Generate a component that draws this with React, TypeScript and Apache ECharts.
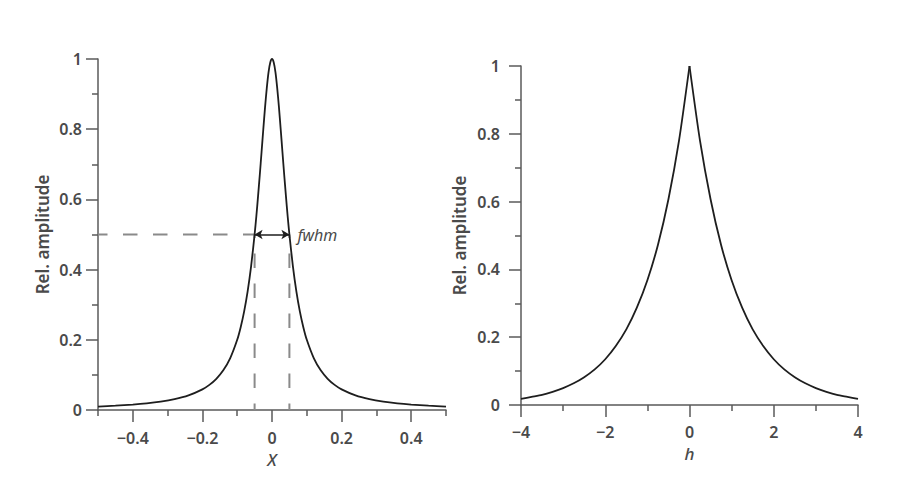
import React, { useEffect, useRef } from "react";
import * as echarts from "echarts";

// Left panel: Lorentzian line shape
const lorX = [-0.5, -0.45, -0.4, -0.36, -0.32, -0.28, -0.24, -0.2, -0.18, -0.16, -0.14, -0.12, -0.1, -0.09, -0.08, -0.07, -0.06, -0.05, -0.045, -0.04, -0.035, -0.03, -0.025, -0.02, -0.015, -0.01, -0.005, 0, 0.005, 0.01, 0.015, 0.02, 0.025, 0.03, 0.035, 0.04, 0.045, 0.05, 0.06, 0.07, 0.08, 0.09, 0.1, 0.12, 0.14, 0.16, 0.18, 0.2, 0.24, 0.28, 0.32, 0.36, 0.4, 0.45, 0.5];
const lorY = [0.0099, 0.0122, 0.0154, 0.0189, 0.0238, 0.0309, 0.0416, 0.0588, 0.0716, 0.089, 0.113, 0.148, 0.2, 0.236, 0.281, 0.338, 0.41, 0.5, 0.552, 0.61, 0.671, 0.735, 0.8, 0.862, 0.917, 0.962, 0.99, 1, 0.99, 0.962, 0.917, 0.862, 0.8, 0.735, 0.671, 0.61, 0.552, 0.5, 0.41, 0.338, 0.281, 0.236, 0.2, 0.148, 0.113, 0.089, 0.0716, 0.0588, 0.0416, 0.0309, 0.0238, 0.0189, 0.0154, 0.0122, 0.0099];

// fwhm annotation
const halfLevel = 0.5;
const fwhmX = [-0.05, 0.05];
const xMinLeft = -0.5;

// Right panel: cusp-shaped curve
const expH = [-4, -3.75, -3.5, -3.25, -3, -2.75, -2.5, -2.25, -2, -1.75, -1.5, -1.25, -1, -0.75, -0.5, -0.25, 0, 0.25, 0.5, 0.75, 1, 1.25, 1.5, 1.75, 2, 2.25, 2.5, 2.75, 3, 3.25, 3.5, 3.75, 4];
const expV = [0.018, 0.024, 0.03, 0.039, 0.05, 0.064, 0.082, 0.105, 0.135, 0.174, 0.223, 0.287, 0.368, 0.472, 0.607, 0.779, 1, 0.779, 0.607, 0.472, 0.368, 0.287, 0.223, 0.174, 0.135, 0.105, 0.082, 0.064, 0.05, 0.039, 0.03, 0.024, 0.018];

// Tick values
const leftMajorTicks = [-0.4, -0.2, 0, 0.2, 0.4];
const leftMinorTicks = [-0.5, -0.3, -0.1, 0.1, 0.3, 0.5];

const FONT = "Noto Sans";
const LABEL_COLOR = "#4a4a4a";
const AXIS_COLOR = "#5a5a5a";
const CURVE_COLOR = "#1e1e1e";
const DASH_COLOR = "#8a8a8a";

const minus = (v: number) => String(v).replace("-", "\u2212");

const tickLabel = {
  color: LABEL_COLOR,
  fontFamily: FONT,
  fontWeight: 600 as const,
  fontSize: 16,
};

const axisNameStyle = {
  color: LABEL_COLOR,
  fontFamily: FONT,
  fontWeight: 600 as const,
  fontSize: 17,
};

export default function App() {
  const ref = useRef<HTMLDivElement>(null);

  useEffect(() => {
    if (!ref.current) return;
    const chart = echarts.init(ref.current, undefined, { renderer: "svg" });

    const lorData = lorX.map((x, i) => [x, lorY[i]]);
    const expLeft = expH.map((h, i) => [h, expV[i]]).filter((p) => p[0] <= 0);
    const expRight = expH.map((h, i) => [h, expV[i]]).filter((p) => p[0] >= 0);

    const yAxisBase = (gridIndex: number, nameGap: number, labelMargin: number) => ({
      type: "value" as const,
      gridIndex,
      min: 0,
      max: 1,
      interval: 0.2,
      name: "Rel. amplitude",
      nameLocation: "middle" as const,
      nameGap,
      nameTextStyle: axisNameStyle,
      axisLine: { show: true, onZero: false, lineStyle: { color: AXIS_COLOR, width: 1.5 } },
      axisTick: { show: true, length: 12, lineStyle: { color: AXIS_COLOR, width: 1.5 } },
      minorTick: { show: true, splitNumber: 2, length: 6, lineStyle: { color: AXIS_COLOR, width: 1.5 } },
      splitLine: { show: false },
      minorSplitLine: { show: false },
      axisLabel: { ...tickLabel, margin: labelMargin },
    });

    const curveSeries = (xAxisIndex: number, yAxisIndex: number, data: number[][]) => ({
      type: "line" as const,
      xAxisIndex,
      yAxisIndex,
      data,
      showSymbol: false,
      smooth: 0.25,
      lineStyle: { color: CURVE_COLOR, width: 1.8 },
    });

    const dashSeries = (data: number[][], offset: number) => ({
      type: "line" as const,
      xAxisIndex: 0,
      yAxisIndex: 0,
      data,
      showSymbol: false,
      silent: true,
      lineStyle: { color: DASH_COLOR, width: 2, type: [14.5, 15.5], dashOffset: offset },
    });

    chart.setOption({
      animation: false,
      backgroundColor: "#ffffff",
      grid: [
        { left: 98, top: 59, width: 348, height: 351 },
        { left: 521, top: 66, width: 337, height: 339 },
      ],
      xAxis: [
        {
          type: "value",
          gridIndex: 0,
          min: -0.5,
          max: 0.5,
          name: "X",
          nameLocation: "middle",
          nameGap: 38,
          nameTextStyle: { ...axisNameStyle, fontStyle: "italic", fontWeight: 500 },
          axisLine: { show: true, onZero: false, lineStyle: { color: AXIS_COLOR, width: 1.5 } },
          axisTick: { show: true, length: 12, customValues: leftMajorTicks, lineStyle: { color: AXIS_COLOR, width: 1.5 } },
          axisLabel: { ...tickLabel, margin: 20, customValues: leftMajorTicks, formatter: (v: number) => minus(v) },
          splitLine: { show: false },
        },
        {
          type: "value",
          gridIndex: 0,
          min: -0.5,
          max: 0.5,
          position: "bottom",
          axisLine: { show: false, onZero: false },
          axisTick: { show: true, length: 6, customValues: leftMinorTicks, lineStyle: { color: AXIS_COLOR, width: 1.5 } },
          axisLabel: { show: false },
          splitLine: { show: false },
        },
        {
          type: "value",
          gridIndex: 1,
          min: -4,
          max: 4,
          interval: 2,
          name: "h",
          nameLocation: "middle",
          nameGap: 40,
          nameTextStyle: { ...axisNameStyle, fontStyle: "italic", fontWeight: 500 },
          axisLine: { show: true, onZero: false, lineStyle: { color: AXIS_COLOR, width: 1.5 } },
          axisTick: { show: true, length: 12, lineStyle: { color: AXIS_COLOR, width: 1.5 } },
          minorTick: { show: true, splitNumber: 2, length: 6, lineStyle: { color: AXIS_COLOR, width: 1.5 } },
          axisLabel: { ...tickLabel, margin: 19, formatter: (v: number) => minus(v) },
          splitLine: { show: false },
          minorSplitLine: { show: false },
        },
      ],
      yAxis: [yAxisBase(0, 47, 16), yAxisBase(1, 53, 21)],
      series: [
        dashSeries(
          [
            [xMinLeft, halfLevel],
            [fwhmX[0], halfLevel],
          ],
          5
        ),
        dashSeries(
          [
            [fwhmX[0], 0],
            [fwhmX[0], halfLevel],
          ],
          7.5
        ),
        dashSeries(
          [
            [fwhmX[1], 0],
            [fwhmX[1], halfLevel],
          ],
          7.5
        ),
        {
          ...curveSeries(0, 0, lorData),
          markLine: {
            silent: true,
            symbol: ["arrow", "arrow"],
            symbolSize: [7, 8],
            lineStyle: { color: CURVE_COLOR, width: 1.6, type: "solid" },
            label: {
              show: true,
              position: "end",
              distance: 8,
              formatter: "fwhm",
              color: LABEL_COLOR,
              fontFamily: FONT,
              fontStyle: "italic",
              fontSize: 16,
            },
            data: [
              [
                { coord: [fwhmX[0], halfLevel] },
                { coord: [fwhmX[1], halfLevel] },
              ],
            ],
          },
        },
        curveSeries(2, 1, expLeft),
        curveSeries(2, 1, expRight),
      ],
    });

    return () => chart.dispose();
  }, []);

  return (
    <div
      ref={ref}
      style={{ position: "fixed", left: 0, top: 0, width: 904, height: 477, background: "#fff" }}
    />
  );
}
